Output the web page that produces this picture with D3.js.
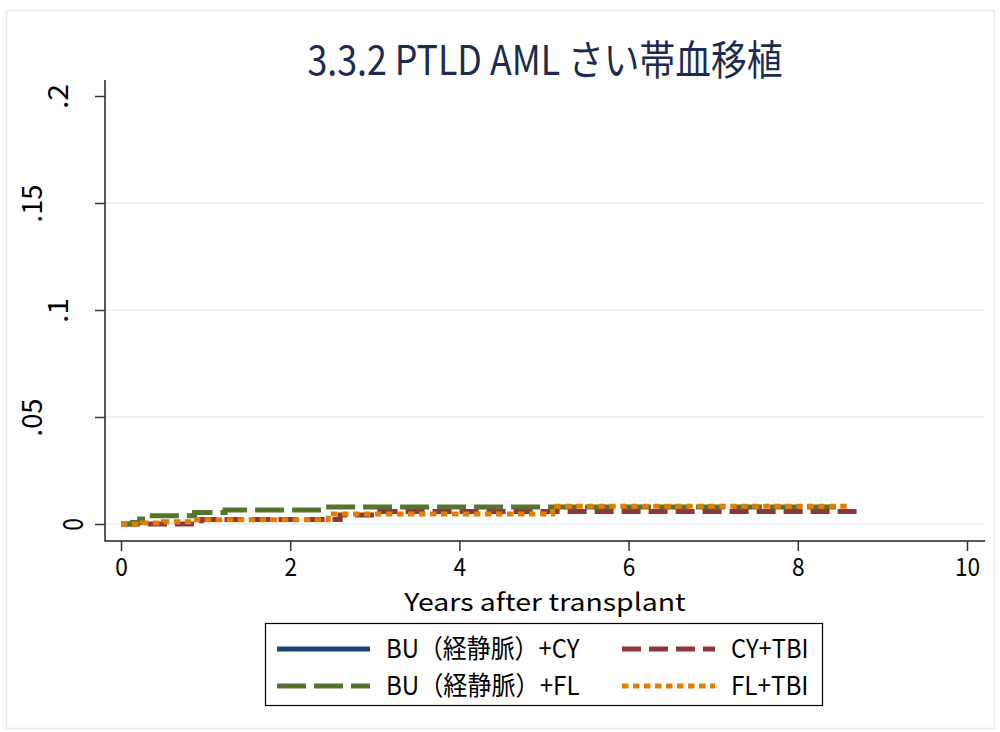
<!DOCTYPE html>
<html>
<head>
<meta charset="utf-8">
<script src="https://cdn.jsdelivr.net/npm/d3@7"></script>
<style>
  body { margin: 0; background: #fff; }
  text { font-family: "Noto Sans CJK JP", sans-serif; }
</style>
</head>
<body>
<div class="grafico"></div>
<script>
var width = 1000, height = 732;

// ticks
var xTicks = [0, 2, 4, 6, 8, 10];
var yTicks = [0, 0.05, 0.1, 0.15, 0.2];
var yTickLabels = ["0", ".05", ".1", ".15", ".2"];

// series (years, cumulative incidence), step functions
var seriesNames = ["BU（経静脈）+CY", "CY+TBI", "BU（経静脈）+FL", "FL+TBI"];
var tBuCy = [], vBuCy = [];
var tCyTbi = [0, 0.95, 2.59, 3.06, 8.73];
var vCyTbi = [0, 0.0021, 0.0042, 0.0058, 0.0058];
var tBuFl = [0, 0.14, 0.22, 0.37, 0.87, 1.23, 2.41, 8.52];
var vBuFl = [0, 0.0007, 0.0023, 0.0038, 0.0054, 0.0065, 0.0079, 0.0079];
var tFlTbi = [0, 0.25, 0.5, 0.85, 2.45, 5.1, 8.62];
var vFlTbi = [0, 0.0005, 0.001, 0.002, 0.0047, 0.0083, 0.0083];

var colors = ["#1a476f", "#90353b", "#55752f", "#e37e00"];
var dashes = [null, "19 8", "29 8", "6.5 4.5"];

var series = [
  { t: tBuCy, v: vBuCy },
  { t: tCyTbi, v: vCyTbi },
  { t: tBuFl, v: vBuFl },
  { t: tFlTbi, v: vFlTbi }
].map(function (s, i) {
  return { name: seriesNames[i], color: colors[i], dash: dashes[i],
    pts: s.t.map(function (t, j) { return [t, s.v[j]]; }) };
});

// half-width units (full-width chars count 2) -> text width like the original mono font
function units(s) {
  var n = 0;
  for (var c of s) n += c.charCodeAt(0) > 0x2000 ? 2 : 1;
  return n;
}
function fitText(sel, unitW) {
  sel.attr("textLength", function () { return units(d3.select(this).text()) * unitW; })
    .attr("lengthAdjust", "spacingAndGlyphs");
}

var svg = d3.select(".grafico").append("svg")
  .attr("width", width)
  .attr("height", height);

// outer graph region border
svg.append("rect")
  .attr("x", 6.5).attr("y", 10.5)
  .attr("width", 988).attr("height", 718)
  .attr("fill", "#fff")
  .attr("stroke", "#e3ecef")
  .attr("stroke-width", 1.5);

var plotL = 105, plotR = 985, plotT = 80, plotB = 541;
var x = d3.scaleLinear().domain([0, 10]).range([121, 967]);
var y = d3.scaleLinear().domain([0, 0.2]).range([524, 96]);

// gridlines
svg.append("g").selectAll("line")
  .data(yTicks.filter(function (d) { return d < 0.2; }))
  .enter().append("line")
  .attr("x1", plotL).attr("x2", plotR)
  .attr("y1", function (d) { return y(d); })
  .attr("y2", function (d) { return y(d); })
  .attr("stroke", "#e6eff1")
  .attr("stroke-width", 1.5);

// curves
var line = d3.line()
  .x(function (d) { return x(d[0]); })
  .y(function (d) { return y(d[1]); })
  .curve(d3.curveStepAfter);

svg.append("g").selectAll("path")
  .data(series.filter(function (s) { return s.pts.length > 0; }))
  .enter().append("path")
  .attr("d", function (d) { return line(d.pts); })
  .attr("fill", "none")
  .attr("stroke", function (d) { return d.color; })
  .attr("stroke-width", 5)
  .attr("stroke-dasharray", function (d) { return d.dash; });

// spines
svg.append("line").attr("x1", plotL).attr("x2", plotL).attr("y1", plotT).attr("y2", plotB + 0.5)
  .attr("stroke", "#222").attr("stroke-width", 1.5);
svg.append("line").attr("x1", plotL).attr("x2", plotR).attr("y1", plotB).attr("y2", plotB)
  .attr("stroke", "#222").attr("stroke-width", 1.5);

// x axis
var xAxis = svg.append("g")
  .attr("transform", "translate(0," + plotB + ")")
  .call(d3.axisBottom(x).tickValues(xTicks).tickSize(10).tickFormat(d3.format("d")));
xAxis.select(".domain").remove();
xAxis.selectAll(".tick line").attr("stroke", "#333").attr("stroke-width", 1.5);
xAxis.selectAll(".tick text")
  .attr("y", 35).attr("dy", null)
  .attr("font-size", 25).attr("fill", "#000")
  .attr("font-family", "Noto Sans CJK JP")
  .call(fitText, 12.6);

svg.append("text")
  .attr("x", (plotL + plotR) / 2)
  .attr("y", 611)
  .attr("text-anchor", "middle")
  .attr("font-size", 24)
  .text("Years after transplant")
  .call(fitText, 12.8);

// y axis
var yAxis = svg.append("g")
  .attr("transform", "translate(" + plotL + ",0)")
  .call(d3.axisLeft(y).tickValues(yTicks).tickSize(10)
    .tickFormat(function (d, i) { return yTickLabels[i]; }));
yAxis.select(".domain").remove();
yAxis.selectAll(".tick line").attr("stroke", "#333").attr("stroke-width", 1.5);
var yShift = [0, 15, 41];
yAxis.selectAll(".tick text")
  .attr("x", null).attr("dy", null)
  .attr("text-anchor", "middle")
  .attr("font-size", 28).attr("fill", "#000")
  .attr("font-family", "Noto Sans CJK JP")
  .attr("transform", function (d, i) {
    var n = yTickLabels[i].length;
    return "translate(" + (-22 - yShift[n - 1]) + ",0) rotate(-90)";
  })
  .call(fitText, 12.6);

// title
svg.append("text")
  .attr("x", 545)
  .attr("y", 75)
  .attr("text-anchor", "middle")
  .attr("font-size", 41)
  .attr("fill", "#1c2b4f")
  .text("3.3.2 PTLD AML さい帯血移植")
  .call(fitText, 17.6);

// legend
var legX = 265, legY = 623, legW = 557, legH = 82;
svg.append("rect")
  .attr("x", legX + 0.5).attr("y", legY + 0.5)
  .attr("width", legW).attr("height", legH)
  .attr("fill", "#fff").attr("stroke", "#000").attr("stroke-width", 1.2);

var leg = svg.append("g").selectAll("g")
  .data(series)
  .enter().append("g")
  .attr("transform", function (d, i) {
    return "translate(" + (legX + 12 + (i % 2) * 345) + "," + (legY + 26 + Math.floor(i / 2) * 37) + ")";
  });
leg.append("line")
  .attr("x1", 0).attr("x2", 93)
  .attr("stroke", function (d) { return d.color; })
  .attr("stroke-width", 5)
  .attr("stroke-dasharray", function (d) { return d.dash; });
leg.append("text")
  .attr("x", 109)
  .attr("y", 9)
  .attr("font-size", 26)
  .text(function (d) { return d.name; })
  .call(fitText, 12.9);
</script>
</body>
</html>
